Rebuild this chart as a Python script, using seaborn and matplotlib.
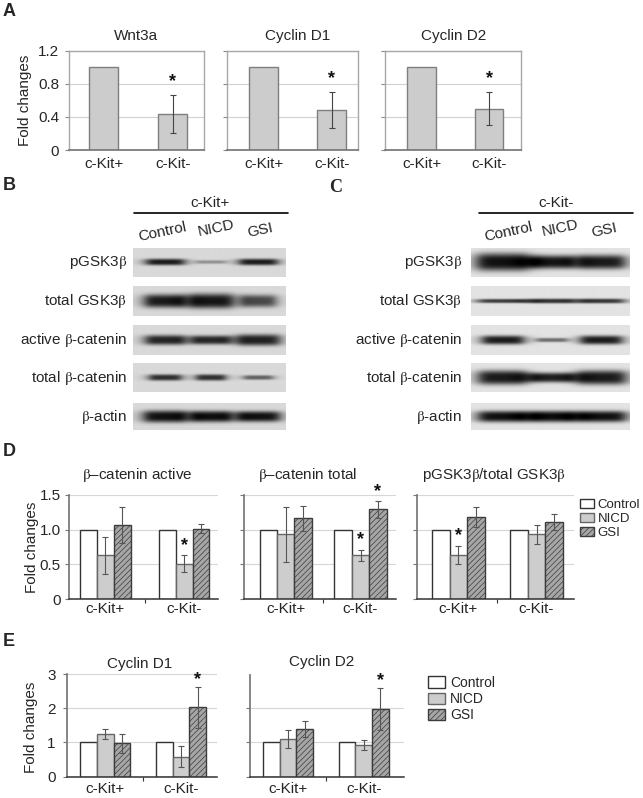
import numpy as np
import pandas as pd
import matplotlib
matplotlib.use("Agg")
import matplotlib.pyplot as plt
import seaborn as sns
from matplotlib.patches import Patch

# ---------------- data ----------------
groups = ["c-Kit+", "c-Kit-"]
treatments = ["Control", "NICD", "GSI"]

# Panel A
a_titles = ["Wnt3a", "Cyclin D1", "Cyclin D2"]
a_wnt3a = [1.0, 0.44]
a_cycd1 = [1.0, 0.48]
a_cycd2 = [1.0, 0.50]
a_wnt3a_err = [0.0, 0.23]
a_cycd1_err = [0.0, 0.22]
a_cycd2_err = [0.0, 0.20]

# Panel D
d_titles = [r"$\mathrm{\beta}$–catenin active", r"$\mathrm{\beta}$–catenin total",
            r"pGSK3$\mathrm{\beta}$/total GSK3$\mathrm{\beta}$"]
d_control = [1.0, 1.0]
d_active_nicd = [0.63, 0.51]
d_active_gsi = [1.07, 1.01]
d_active_nicd_err = [0.27, 0.12]
d_active_gsi_err = [0.26, 0.065]
d_total_nicd = [0.93, 0.63]
d_total_gsi = [1.16, 1.29]
d_total_nicd_err = [0.40, 0.08]
d_total_gsi_err = [0.18, 0.12]
d_pgsk_nicd = [0.635, 0.93]
d_pgsk_gsi = [1.175, 1.11]
d_pgsk_nicd_err = [0.135, 0.13]
d_pgsk_gsi_err = [0.145, 0.115]

# Panel E
e_titles = ["Cyclin D1", "Cyclin D2"]
e_control = [1.0, 1.0]
e_d1_nicd = [1.25, 0.585]
e_d1_gsi = [0.97, 2.03]
e_d1_nicd_err = [0.15, 0.30]
e_d1_gsi_err = [0.29, 0.60]
e_d2_nicd = [1.10, 0.93]
e_d2_gsi = [1.385, 1.97]
e_d2_nicd_err = [0.26, 0.155]
e_d2_gsi_err = [0.23, 0.62]

# Western blots (band darkness / thickness / width, lanes Control, NICD, GSI)
blot_rows = [r"pGSK3$\mathrm{\beta}$", r"total GSK3$\mathrm{\beta}$", r"active $\mathrm{\beta}$-catenin",
             r"total $\mathrm{\beta}$-catenin", r"$\mathrm{\beta}$-actin"]
b_dark = [[0.95, 0.35, 0.95], [0.95, 0.97, 0.72], [0.9, 0.88, 0.92], [0.85, 0.85, 0.6], [1, 1, 1]]
b_thick = [[0.22, 0.12, 0.22], [0.45, 0.5, 0.42], [0.33, 0.3, 0.38], [0.22, 0.22, 0.16], [0.45, 0.42, 0.4]]
b_width = [[0.26, 0.2, 0.26], [0.28, 0.3, 0.24], [0.27, 0.27, 0.29], [0.22, 0.2, 0.2], [0.29, 0.28, 0.29]]
c_dark = [[1, 0.95, 0.95], [0.8, 0.82, 0.82], [0.95, 0.55, 0.95], [0.95, 0.9, 0.95], [1, 1, 1]]
c_thick = [[0.6, 0.45, 0.48], [0.14, 0.16, 0.16], [0.3, 0.14, 0.3], [0.5, 0.34, 0.5], [0.42, 0.42, 0.42]]
c_width = [[0.34, 0.3, 0.31], [0.33, 0.3, 0.3], [0.27, 0.2, 0.27], [0.32, 0.3, 0.32], [0.32, 0.31, 0.32]]

# ---------------- style ----------------
sns.set_theme(style="white")
plt.rcParams["font.family"] = ["Liberation Sans", "DejaVu Sans"]
plt.rcParams["mathtext.fontset"] = "stix"
plt.rcParams["hatch.color"] = "#858585"
plt.rcParams["hatch.linewidth"] = 0.5

W, H = 643, 798
fig = plt.figure(figsize=(W / 100, H / 100), dpi=100)
fig.patch.set_facecolor("white")


def add_ax(x0, y0, x1, y1):
    return fig.add_axes([x0 / W, 1 - y1 / H, (x1 - x0) / W, (y1 - y0) / H])


def ftext(x, y, s, **kw):
    fig.text(x / W, 1 - y / H, s, **kw)


TXT = 11
STYLE = {
    "Control": dict(fc="white", ec="#333333", hatch=None),
    "NICD": dict(fc="#cdcdcd", ec="#666666", hatch=None),
    "GSI": dict(fc="#a6a6a6", ec="#3c3c3c", hatch="//////"),
}


def star(ax, x, y, off):
    ax.annotate("*", (x, y), xytext=(0, off), textcoords="offset points",
                ha="center", va="center", fontsize=13, fontweight="bold", color="#111111")


# ---------------- Panel A ----------------
ftext(3, 11.5, "A", fontsize=13, fontweight="bold", va="center")
a_boxes = [(69, 204, -0.50, 1.45), (227, 358.3, -0.54, 1.39), (385.4, 520.8, -0.535, 1.47)]
a_vals = [a_wnt3a, a_cycd1, a_cycd2]
a_errs = [a_wnt3a_err, a_cycd1_err, a_cycd2_err]
a_title_x = [136, 298, 454]
for i, (x0, x1, xl0, xl1) in enumerate(a_boxes):
    ax = add_ax(x0, 50.7, x1, 150)
    df = pd.DataFrame({"group": groups, "value": a_vals[i]})
    sns.barplot(data=df, x="group", y="value", order=groups, color="#cccccc", saturation=1,
                width=0.42, errorbar=None, ax=ax, edgecolor="#7f7f7f", linewidth=1.0)
    bars = ax.containers[0]
    for b, v, e in zip(bars, a_vals[i], a_errs[i]):
        if e > 0:
            xc = b.get_x() + b.get_width() / 2
            ax.errorbar(xc, v, yerr=e, fmt="none", ecolor="#444444", elinewidth=0.8,
                        capsize=2.5, capthick=0.8)
            star(ax, xc, v + e, 9.5)
    ax.set_xlim(xl0, xl1)
    ax.set_ylim(0, 1.2)
    ax.set_yticks([0, 0.4, 0.8, 1.2])
    ax.set_yticklabels(["0", "0.4", "0.8", "1.2"] if i == 0 else [])
    ax.yaxis.grid(True, color="#d0d0d0", lw=0.8)
    ax.set_axisbelow(True)
    for s in ["top", "right", "left"]:
        ax.spines[s].set_color("#a8a8a8")
        ax.spines[s].set_linewidth(1.0)
    ax.spines["bottom"].set_color("#777777")
    ax.tick_params(axis="y", which="both", left=True, direction="out", length=3, width=0.8,
                   color="#888888", pad=4, labelsize=TXT)
    ax.tick_params(axis="x", length=0, pad=5, labelsize=TXT)
    ax.set_xlabel("")
    ax.set_ylabel("")
    ftext(a_title_x[i], 36, a_titles[i], ha="center", va="center", fontsize=TXT)
ftext(25, 100, "Fold changes", rotation=90, ha="center", va="center", fontsize=TXT)


# ---------------- Panels B and C (western blots) ----------------
def blot_image(dark, thick, width, centers, bg):
    nx, ny = 320, 60
    x = np.linspace(0, 1, nx)[None, :]
    y = np.linspace(0, 1, ny)[:, None]
    img = np.full((ny, nx), bg, dtype=float)
    for c, d, t, w in zip(centers, dark, thick, width):
        hx = 1 / (1 + np.abs((x - c) / (w / 2)) ** 6)
        vy = np.exp(-np.abs((y - 0.5) / (t / 2)) ** 3)
        img -= (bg - 0.07) * d * hx * vy
    return np.clip(img, 0, 1)


row_y = [(247.7, 277.3), (286, 315.7), (325, 355), (363.3, 392.3), (403.3, 430)]
ftext(3, 186, "B", fontsize=13, fontweight="bold", va="center")
ftext(329, 187, "C", fontsize=13, fontweight="bold", va="center", family="Liberation Serif")

panels = [
    dict(x0=132.5, x1=285.4, lx=127, head="c-Kit+", hx=210, line=(134, 287.5),
         lanes=[(162.5, 231.7), (215.8, 228), (260, 230)], dark=b_dark, thick=b_thick,
         width=b_width, centers=[0.21, 0.51, 0.82], bg=0.85),
    dict(x0=471, x1=629, lx=462, head="c-Kit-", hx=556, line=(479, 633),
         lanes=[(508, 231.7), (560, 228), (604, 230)], dark=c_dark, thick=c_thick,
         width=c_width, centers=[0.2, 0.51, 0.82], bg=0.89),
]
for p in panels:
    ftext(p["hx"], 203, p["head"], ha="center", va="center", fontsize=TXT)
    lax = fig.add_axes([0, 0, 1, 1], facecolor="none")
    lax.set_xlim(0, W)
    lax.set_ylim(H, 0)
    lax.axis("off")
    lax.plot(p["line"], [213.3, 213.3], color="black", lw=1.2)
    for (lx, ly), name in zip(p["lanes"], treatments):
        ftext(lx, ly, name, ha="center", va="center", fontsize=TXT, rotation=12)
    for r, (y0, y1) in enumerate(row_y):
        ax = add_ax(p["x0"], y0, p["x1"], y1)
        img = blot_image(p["dark"][r], p["thick"][r], p["width"][r], p["centers"], p["bg"])
        ax.imshow(img, cmap="gray", vmin=0, vmax=1, aspect="auto", interpolation="bilinear")
        ax.axis("off")
        ftext(p["lx"], (y0 + y1) / 2, blot_rows[r], ha="right", va="center", fontsize=TXT)


# ---------------- grouped bar helper ----------------
def grouped(ax, ctrl, nicd, gsi, nicd_err, gsi_err, width):
    df = pd.DataFrame({
        "group": groups * 3,
        "treatment": [t for t in treatments for _ in groups],
        "value": list(ctrl) + list(nicd) + list(gsi),
    })
    sns.barplot(data=df, x="group", y="value", hue="treatment", order=groups,
                hue_order=treatments, palette={t: STYLE[t]["fc"] for t in treatments},
                saturation=1, width=width, gap=0, errorbar=None, legend=False, ax=ax,
                linewidth=1.0)
    errs = {"Control": [0, 0], "NICD": nicd_err, "GSI": gsi_err}
    vals = {"Control": ctrl, "NICD": nicd, "GSI": gsi}
    centers = {}
    for cont, t in zip(ax.containers, treatments):
        st = STYLE[t]
        cs = []
        for b, v, e in zip(cont, vals[t], errs[t]):
            b.set_facecolor(st["fc"])
            b.set_edgecolor(st["ec"])
            b.set_linewidth(1.0)
            if st["hatch"]:
                b.set_hatch(st["hatch"])
                if hasattr(b, "set_hatchcolor"):
                    b.set_hatchcolor("#858585")
            xc = b.get_x() + b.get_width() / 2
            cs.append(xc)
            if e > 0:
                ax.errorbar(xc, v, yerr=e, fmt="none", ecolor="#555555", elinewidth=0.8,
                            capsize=2.5, capthick=0.8, zorder=5)
        centers[t] = cs
    ax.set_xlabel("")
    ax.set_ylabel("")
    return centers


def style_grouped(ax, ymax, ticks, labels, show, pad_x, pad_y):
    ax.set_ylim(0, ymax)
    ax.set_yticks(ticks)
    ax.set_yticklabels(labels if show else [])
    ax.yaxis.grid(True, color="#d6d6d6", lw=0.8)
    ax.set_axisbelow(True)
    ax.spines["top"].set_visible(False)
    ax.spines["right"].set_visible(False)
    ax.spines["left"].set_color("#777777")
    ax.spines["bottom"].set_color("#333333")
    ax.spines["bottom"].set_linewidth(1.1)
    ax.tick_params(axis="y", left=True, direction="out", length=3, width=0.8,
                   color="#777777", pad=pad_y, labelsize=TXT)
    ax.tick_params(axis="x", which="major", length=0, pad=pad_x, labelsize=TXT)
    ax.set_xticks([0.5], minor=True)
    ax.tick_params(axis="x", which="minor", bottom=True, direction="out", length=3,
                   width=0.8, color="#333333")


# ---------------- Panel D ----------------
ftext(3, 451, "D", fontsize=13, fontweight="bold", va="center")
d_boxes = [(69, 218, -0.463, 1.43, 0.64), (244.3, 395.7, -0.554, 1.47, 0.70),
           (417.3, 574, -0.527, 1.48, 0.675)]
d_data = [(d_active_nicd, d_active_gsi, d_active_nicd_err, d_active_gsi_err),
          (d_total_nicd, d_total_gsi, d_total_nicd_err, d_total_gsi_err),
          (d_pgsk_nicd, d_pgsk_gsi, d_pgsk_nicd_err, d_pgsk_gsi_err)]
d_stars = [[("NICD", 1)], [("NICD", 1), ("GSI", 1)], [("NICD", 0)]]
d_title_x = [137.5, 308, 494]
for i, (x0, x1, xl0, xl1, wd) in enumerate(d_boxes):
    ax = add_ax(x0, 494.7, x1, 599.3)
    nicd, gsi, ne, ge = d_data[i]
    cen = grouped(ax, d_control, nicd, gsi, ne, ge, wd)
    ax.set_xlim(xl0, xl1)
    style_grouped(ax, 1.5, [0, 0.5, 1.0, 1.5], ["0", "0.5", "1.0", "1.5"], i == 0, 2, 3)
    vals = {"NICD": (nicd, ne), "GSI": (gsi, ge)}
    for t, g in d_stars[i]:
        v, e = vals[t]
        star(ax, cen[t][g], v[g] + e[g], 7)
    ftext(d_title_x[i], 475, d_titles[i], ha="center", va="center", fontsize=TXT)
ftext(32, 547, "Fold changes", rotation=90, ha="center", va="center", fontsize=TXT)

handles = [Patch(facecolor=STYLE[t]["fc"], edgecolor=STYLE[t]["ec"], hatch=STYLE[t]["hatch"],
                 linewidth=1.0) for t in treatments]
fig.legend(handles, treatments, loc="upper left", bbox_to_anchor=(580 / W, 1 - 498.5 / H),
           frameon=False, fontsize=9.5, handlelength=1.05, handleheight=0.75,
           labelspacing=0.12, handletextpad=0.3, borderpad=0, borderaxespad=0)

# ---------------- Panel E ----------------
ftext(3, 641, "E", fontsize=13, fontweight="bold", va="center")
e_boxes = [(66.7, 216.7, -0.51, 1.47, 0.66, 3.0), (250, 404, -0.50, 1.53, 0.66, 2.97)]
e_data = [(e_d1_nicd, e_d1_gsi, e_d1_nicd_err, e_d1_gsi_err),
          (e_d2_nicd, e_d2_gsi, e_d2_nicd_err, e_d2_gsi_err)]
e_title_xy = [(139.6, 664), (322, 661.7)]
for i, (x0, x1, xl0, xl1, wd, ymax) in enumerate(e_boxes):
    y0 = 776.7 - (776.7 - 674) * ymax / 3.0
    ax = add_ax(x0, y0, x1, 776.7)
    nicd, gsi, ne, ge = e_data[i]
    cen = grouped(ax, e_control, nicd, gsi, ne, ge, wd)
    ax.set_xlim(xl0, xl1)
    style_grouped(ax, ymax, [0, 1, 2, 3] if i == 0 else [0, 1, 2], ["0", "1", "2", "3"], i == 0, 4, 5)
    star(ax, cen["GSI"][1], gsi[1] + ge[1], 5)
    ftext(e_title_xy[i][0], e_title_xy[i][1], e_titles[i], ha="center", va="center", fontsize=TXT)
ftext(31, 727, "Fold changes", rotation=90, ha="center", va="center", fontsize=TXT)
fig.legend(handles, treatments, loc="upper left", bbox_to_anchor=(428 / W, 1 - 676 / H),
           frameon=False, fontsize=10, handlelength=1.2, handleheight=0.9,
           labelspacing=0.15, handletextpad=0.4, borderpad=0, borderaxespad=0)

fig.savefig("out.png", dpi=100, facecolor="white")
